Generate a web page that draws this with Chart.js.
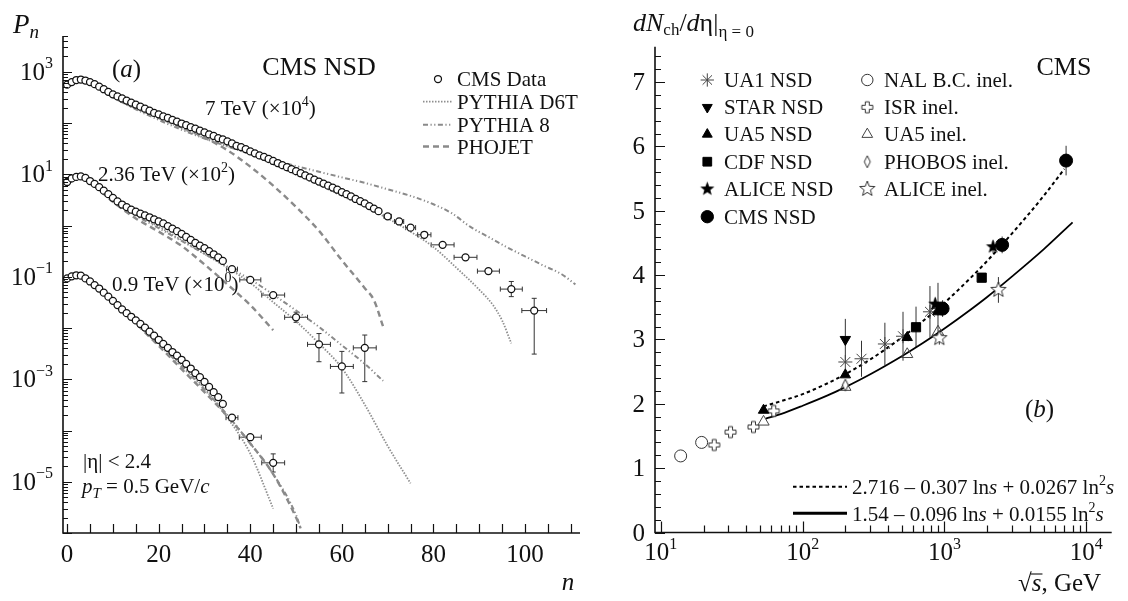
<!DOCTYPE html>
<html>
<head>
<meta charset="utf-8">
<script src="https://cdn.jsdelivr.net/npm/chart.js@4.4.1/dist/chart.umd.min.js"></script>
<style>
  body { margin: 0; background: #fff; }
  #wrapL { position: absolute; left: 0; top: 0; width: 600px; height: 601px; }
  #wrapR { position: absolute; left: 600px; top: 0; width: 528px; height: 601px; }
</style>
</head>
<body>
<div id="wrapL"><canvas id="left" width="600" height="601"></canvas></div>
<div id="wrapR"><canvas id="right" width="528" height="601"></canvas></div>
<script>
// ---------- panel (a): multiplicity distributions ----------
const n09 = [0,1,2,3,4,5,6,7,8,9,10,11,12,13,14,15,16,17,18,19,20,21,22,23,24,25,26,27,28,29,30,31,32,33,34,36,40,45];
const p09 = [0.093,0.102,0.107,0.105,0.093,0.081,0.069,0.059,0.049,0.041,
  0.034,0.028,0.023,0.0195,0.0166,0.0141,0.012,0.0102,0.0085,0.0071,
  0.0059,0.0049,0.0041,0.0034,0.0029,0.0024,0.002,0.00162,0.00132,0.0011,
  0.00089,0.00071,0.00056,0.00045,0.00033,0.000178,0.000074,0.0000234];
const e09dx = [1.3, 2.4, 2.5];
const e09lo = [null, null, 1.55e-5];
const e09hi = [null, null, 3.5e-5];

const n236 = [0,1,2,3,4,5,6,7,8,9,10,11,12,13,14,15,16,17,18,19,20,21,22,23,24,25,26,27,28,29,30,31,32,33,34,36,40,45,50,55,60,65];
const p236 = [7.08,8.3,8.9,9.1,8.5,7.4,6.5,5.6,4.8,4.1,
  3.47,2.95,2.57,2.29,2.04,1.86,1.70,1.58,1.45,1.32,
  1.20,1.10,0.977,0.87,0.776,0.69,0.60,0.525,0.457,0.407,
  0.363,0.316,0.275,0.240,0.204,0.141,0.087,0.044,0.0162,0.0048,0.00178,0.0041];
const e236dx = [1.2, 2.3, 2.5, 2.5, 2.5, 2.5, 2.5];
const e236lo = [null, null, null, 0.0129, 0.0022, 0.00054, 0.0009];
const e236hi = [null, null, null, 0.0204, 0.0078, 0.0035, 0.0073];

const n7 = [0,1,2,3,4,5,6,7,8,9,10,11,12,13,14,15,16,17,18,19,20,21,22,23,24,25,26,27,28,29,
  30,31,32,33,34,35,36,37,38,39,40,41,42,43,44,45,46,47,48,49,50,51,52,53,54,55,56,57,58,59,
  60,61,62,63,64,65,66,67,68,70,72.5,75,78,82,87,92,97,102];
const p7 = [562,631,692,708,676,631,575,513,457,407,
  363,331,302,275,251,229,209,191,174,158,
  148,135,126,115,107,98,91,83,78,71,
  66,60,56,51,48,44,40,36,34,31,
  28,25.7,23.4,21.9,20,18.2,16.6,15.1,13.8,12.6,
  11.5,10.5,9.5,8.7,7.9,7.2,6.6,6.0,5.5,5.0,
  4.5,4.1,3.7,3.3,3.0,2.7,2.4,2.14,1.91,
  1.51,1.20,0.91,0.66,0.42,0.24,0.129,0.0575,0.0219];
const e7dx = [0.8, 1.0, 1.1, 1.45, 2.5, 2.5, 2.4, 2.4, 2.7];
const e7lo = [null, null, null, null, null, null, 0.115, 0.041, 0.0031];
const e7hi = [null, null, null, null, null, null, 0.145, 0.081, 0.038];

// model curves
const d6t7n = [0,3,5,10,15,20,25,30,35,40,45,50,55,60,65,70,75,80,85,90,93,95,97];
const d6t7p = [525,661,603,316,191,126,79,51,35.5,24.5,15.5,9.8,6.2,3.8,2.34,1.38,0.76,0.38,0.15,0.056,0.028,0.014,0.005];
const py87n = [0,2,4,6,10,15,20,25,30,35,40,45,50,55,60,65,70,75,80,84,88,92,96,100,104,108,111];
const py87p = [501,631,631,525,316,186,115,74,50,35,25,19,14.5,11.2,8.7,6.8,5.1,3.8,2.6,1.74,0.95,0.60,0.38,0.25,0.166,0.112,0.071];
const pho7n = [0,3,5,10,15,20,25,30,35,40,45,50,55,60,65,67,69];
const pho7p = [501,661,589,331,200,126,83,52,29.5,14.1,6.0,2.3,0.79,0.21,0.060,0.035,0.0107];

const d6t236n = [0,3,5,10,15,20,25,30,35,40,45,50,55,60,65,70,75];
const d6t236p = [6.6,8.7,7.2,3.3,1.66,0.95,0.52,0.28,0.15,0.076,0.032,0.0135,0.005,0.00166,0.00032,0.00005,0.0000093];
const py8236n = [0,3,5,10,15,20,25,30,35,40,45,50,55,60,65,69];
const py8236p = [6.6,8.7,7.1,3.2,1.58,0.89,0.50,0.28,0.158,0.089,0.045,0.022,0.0105,0.0046,0.002,0.00093];
const pho236n = [0,3,5,10,15,20,25,30,35,40,45];
const pho236p = [6.6,8.5,6.9,2.9,1.38,0.76,0.40,0.174,0.071,0.028,0.0091];

const d6t09n = [0,3,5,10,15,20,25,30,35,40,45];
const d6t09p = [0.095,0.107,0.087,0.035,0.0132,0.005,0.0019,0.00066,0.000178,0.0000355,0.000003];
const py809n = [0,3,5,10,15,20,25,30,35,40,45,50,51];
const py809p = [0.095,0.105,0.085,0.033,0.0126,0.0048,0.00178,0.00063,0.0002,0.000056,0.0000141,0.00000224,0.00000123];
const pho09n = [0,3,5,10,15,20,25,30,35,40,45,50,51];
const pho09p = [0.095,0.107,0.085,0.033,0.0123,0.0045,0.00158,0.00056,0.00019,0.000056,0.0000141,0.000002,0.00000123];

const xTicksL = [0, 20, 40, 60, 80, 100];
const yExpL = [3, 1, -1, -3, -5];

// ---------- panel (b): dN/deta vs sqrt(s) ----------
const ua1S = [200, 260, 380, 510, 790, 900];
const ua1V = [2.65, 2.70, 2.93, 3.05, 3.43, 3.48];
const ua1E = [0, 0.28, 0.33, 0.38, 0.4, 0.4];
const starS = [200];
const starV = [3.0];
const starE = [0.32];
const ua5nS = [53, 200, 546, 900];
const ua5nV = [1.90, 2.45, 3.03, 3.43];
const cdfS = [630, 1830];
const cdfV = [3.19, 3.96];
const cdfE = [0.32, 0];
const aliceNS = [860, 2200];
const aliceNV = [3.55, 4.44];
const aliceNE = [0.1, 0.1];
const cmsS = [970, 2550, 7200];
const cmsV = [3.48, 4.47, 5.78];
const cmsE = [0.13, 0.13, 0.23];
const nalS = [13.8, 19.4];
const nalV = [1.19, 1.40];
const isrS = [23.8, 31, 45, 62.5];
const isrV = [1.36, 1.56, 1.64, 1.89];
const ua5iS = [53, 200, 546, 900];
const ua5iV = [1.72, 2.26, 2.77, 3.12];
const phobS = [200];
const phobV = [2.29];
const aliceIS = [920, 2400];
const aliceIV = [3.02, 3.77];
const aliceIE = [0.1, 0.2];

const fitNsdS = [53, 70, 100, 150, 200, 300, 500, 700, 1000, 1500, 2000, 3000, 5000, 7000];
const fitNsdV = [1.96, 2.04, 2.15, 2.32, 2.46, 2.69, 3.03, 3.28, 3.57, 3.94, 4.22, 4.65, 5.23, 5.65];
const fitInS = [55, 70, 100, 150, 200, 300, 500, 700, 1000, 1500, 2000, 3000, 5000, 8000];
const fitInV = [1.77, 1.84, 1.97, 2.13, 2.26, 2.46, 2.74, 2.94, 3.17, 3.45, 3.66, 3.98, 4.40, 4.82];

const xExpR = [1, 2, 3, 4];
const yTicksR = [0, 1, 2, 3, 4, 5, 6, 7];

// ---------- helpers ----------
const SERIF = '"Liberation Serif", "DejaVu Serif", serif';
function font(sz, it) { return (it ? 'italic ' : '') + sz + 'px ' + SERIF; }

function rich(ctx, x, y, parts, align) {
  let w = 0;
  parts.forEach(p => { ctx.font = p[1]; w += ctx.measureText(p[0]).width; });
  let cx = align === 'center' ? x - w / 2 : align === 'right' ? x - w : x;
  ctx.textAlign = 'left';
  ctx.textBaseline = 'alphabetic';
  parts.forEach(p => {
    ctx.font = p[1];
    ctx.fillText(p[0], cx, y + (p[2] || 0));
    cx += ctx.measureText(p[0]).width;
  });
  return w;
}

const pts = (xs, ys) => xs.map((v, i) => ({ x: v, y: ys[i] }));

function markerCanvas(kind, r, filled) {
  const s = Math.ceil(r * 2 + 4);
  const c = document.createElement('canvas');
  c.width = s; c.height = s;
  const g = c.getContext('2d');
  g.translate(s / 2, s / 2);
  g.beginPath();
  if (kind === 'star') {
    for (let i = 0; i < 10; i++) {
      const ang = -Math.PI / 2 + i * Math.PI / 5;
      const rr = i % 2 ? r * 0.42 : r;
      g.lineTo(rr * Math.cos(ang), rr * Math.sin(ang));
    }
  } else if (kind === 'plus') {
    const w = r * 0.36;
    g.moveTo(-w, -r); g.lineTo(w, -r); g.lineTo(w, -w); g.lineTo(r, -w); g.lineTo(r, w);
    g.lineTo(w, w); g.lineTo(w, r); g.lineTo(-w, r); g.lineTo(-w, w); g.lineTo(-r, w);
    g.lineTo(-r, -w); g.lineTo(-w, -w);
  } else if (kind === 'diamond') {
    g.moveTo(0, -r); g.lineTo(r * 0.5, 0); g.lineTo(0, r); g.lineTo(-r * 0.5, 0);
  }
  g.closePath();
  if (filled) { g.fillStyle = '#000'; g.fill(); }
  else { g.fillStyle = '#fff'; g.fill(); g.strokeStyle = '#333'; g.lineWidth = 1; g.stroke(); }
  return c;
}

function drawErrors(chart) {
  const ctx = chart.ctx, xs = chart.scales.x, ys = chart.scales.y;
  ctx.save();
  ctx.strokeStyle = '#333';
  ctx.lineWidth = 1;
  chart.data.datasets.forEach(ds => {
    const d = ds.data;
    if (ds.xerr) {
      const off = d.length - ds.xerr.length;
      ds.xerr.forEach((dx, k) => {
        const p = d[off + k];
        const py = ys.getPixelForValue(p.y);
        const x1 = xs.getPixelForValue(p.x - dx), x2 = xs.getPixelForValue(p.x + dx);
        ctx.beginPath();
        ctx.moveTo(x1, py); ctx.lineTo(x2, py);
        ctx.moveTo(x1, py - 2.5); ctx.lineTo(x1, py + 2.5);
        ctx.moveTo(x2, py - 2.5); ctx.lineTo(x2, py + 2.5);
        const lo = ds.ylo[k], hi = ds.yhi[k];
        if (lo !== null) {
          const px = xs.getPixelForValue(p.x);
          const y1 = ys.getPixelForValue(lo), y2 = ys.getPixelForValue(hi);
          ctx.moveTo(px, y1); ctx.lineTo(px, y2);
          ctx.moveTo(px - 2.5, y1); ctx.lineTo(px + 2.5, y1);
          ctx.moveTo(px - 2.5, y2); ctx.lineTo(px + 2.5, y2);
        }
        ctx.stroke();
      });
    }
    if (ds.yerr) {
      ds.yerr.forEach((e, k) => {
        if (!e) return;
        const p = d[k];
        const px = xs.getPixelForValue(p.x);
        ctx.beginPath();
        ctx.moveTo(px, ys.getPixelForValue(p.y - e));
        ctx.lineTo(px, ys.getPixelForValue(p.y + e));
        ctx.stroke();
      });
    }
  });
  ctx.restore();
}

// ---------- left chart ----------
const DOT = [1.5, 1.5], DASHDOT = [5, 2.5, 1.2, 2.5, 1.2, 2.5], DASH = [6, 4];
const GRAY_DOT = '#8e8e8e', GRAY = '#8a8a8a';

function dataSet(xs, ys, dx, lo, hi) {
  return {
    data: pts(xs, ys), showLine: false, pointStyle: 'circle', pointRadius: 3.5,
    pointBackgroundColor: '#fff', pointBorderColor: '#111', pointBorderWidth: 1.25,
    xerr: dx, ylo: lo, yhi: hi
  };
}
function modelSet(xs, ys, dash, color, width) {
  return {
    data: pts(xs, ys), showLine: true, pointRadius: 0, borderColor: color,
    borderDash: dash, borderWidth: width, cubicInterpolationMode: 'monotone', fill: false
  };
}

const leftDecor = {
  id: 'leftDecor',
  beforeDatasetsDraw(chart) { drawErrors(chart); },
  afterDraw(chart) {
    const ctx = chart.ctx, a = chart.chartArea, x = chart.scales.x, y = chart.scales.y;
    ctx.save();
    ctx.strokeStyle = '#111'; ctx.fillStyle = '#111';
    ctx.lineWidth = 1.6;
    ctx.beginPath();
    ctx.moveTo(a.left, a.top); ctx.lineTo(a.left, a.bottom); ctx.lineTo(a.right, a.bottom);
    ctx.stroke();
    ctx.lineWidth = 1.2;
    ctx.beginPath();
    for (let v = 0; v <= 110; v += 5) {
      const px = Math.round(x.getPixelForValue(v)) + 0.5;
      ctx.moveTo(px, a.bottom); ctx.lineTo(px, a.bottom - 9);
    }
    for (let e = -6; e <= 3; e++) {
      for (let m = 1; m <= 9; m++) {
        const v = m * Math.pow(10, e);
        if (v > y.max * 1.0001) break;
        const py = Math.round(y.getPixelForValue(v)) + 0.5;
        ctx.moveTo(a.left, py); ctx.lineTo(a.left + (m === 1 ? 9 : 5), py);
      }
    }
    ctx.stroke();

    // tick labels
    ctx.textAlign = 'center'; ctx.font = font(25);
    xTicksL.forEach(v => ctx.fillText(String(v), x.getPixelForValue(v), a.bottom + 29));
    yExpL.forEach(e => {
      const py = y.getPixelForValue(Math.pow(10, e));
      const sup = (e < 0 ? '\u2212' : '') + Math.abs(e);
      rich(ctx, 53, py + 8, [['10', font(25)], [sup, font(16), -11.5]], 'right');
    });

    // axis titles
    rich(ctx, 13, 33, [['P', font(27, true)], ['n', font(19, true), 5]]);
    rich(ctx, 568, 590, [['n', font(25, true)]], 'center');

    // annotations
    rich(ctx, 112, 77, [['(', font(25)], ['a', font(25, true)], [')', font(25)]]);
    rich(ctx, 319, 75, [['CMS NSD', font(26)]], 'center');
    rich(ctx, 205, 115, [['7 TeV (\u00d710', font(21)], ['4', font(14), -9], [')', font(21)]]);
    rich(ctx, 98, 181, [['2.36 TeV (\u00d710', font(21)], ['2', font(14), -9], [')', font(21)]]);
    rich(ctx, 112, 291, [['0.9 TeV (\u00d710', font(21)], ['0', font(14), -9], [')', font(21)]]);
    rich(ctx, 83, 468, [['|\u03b7| < 2.4', font(21)]]);
    rich(ctx, 82, 493, [['p', font(21, true)], ['T', font(15, true), 5], [' = 0.5 GeV/', font(21)], ['c', font(21, true)]]);

    // legend
    const lx1 = 423, lx2 = 452, tx = 457;
    ctx.lineWidth = 1.25; ctx.strokeStyle = '#111'; ctx.fillStyle = '#fff';
    ctx.beginPath(); ctx.arc(438, 79, 3.5, 0, Math.PI * 2); ctx.fill(); ctx.stroke();
    const rows = [[101.7, DOT, GRAY_DOT, 1.8], [124.7, DASHDOT, GRAY, 2.0], [146.5, DASH, GRAY, 2.4]];
    rows.forEach(r => {
      ctx.setLineDash(r[1]); ctx.strokeStyle = r[2]; ctx.lineWidth = r[3];
      ctx.beginPath(); ctx.moveTo(lx1, r[0]); ctx.lineTo(lx2, r[0]); ctx.stroke();
    });
    ctx.setLineDash([]);
    ctx.fillStyle = '#111';
    ['CMS Data', 'PYTHIA D6T', 'PYTHIA 8', 'PHOJET'].forEach((t, i) => {
      rich(ctx, tx, [79, 101.7, 124.7, 146.5][i] + 7, [[t, font(21)]]);
    });
    ctx.restore();
  }
};

new Chart(document.getElementById('left'), {
  type: 'scatter',
  data: {
    datasets: [
      dataSet(n09, p09, e09dx, e09lo, e09hi),
      dataSet(n236, p236, e236dx, e236lo, e236hi),
      dataSet(n7, p7, e7dx, e7lo, e7hi),
      modelSet(d6t09n, d6t09p, DOT, GRAY_DOT, 1.8),
      modelSet(py809n, py809p, DASHDOT, GRAY, 2.0),
      modelSet(pho09n, pho09p, DASH, GRAY, 2.4),
      modelSet(d6t236n, d6t236p, DOT, GRAY_DOT, 1.8),
      modelSet(py8236n, py8236p, DASHDOT, GRAY, 2.0),
      modelSet(pho236n, pho236p, DASH, GRAY, 2.4),
      modelSet(d6t7n, d6t7p, DOT, GRAY_DOT, 1.8),
      modelSet(py87n, py87p, DASHDOT, GRAY, 2.0),
      modelSet(pho7n, pho7p, DASH, GRAY, 2.4)
    ]
  },
  options: {
    responsive: false,
    animation: false,
    events: [],
    layout: { padding: { left: 63, right: 20, top: 36, bottom: 68 } },
    scales: {
      x: { type: 'linear', min: -0.9, max: 112, display: false },
      y: { type: 'logarithmic', min: 1e-6, max: 5000, display: false }
    },
    plugins: { legend: { display: false }, tooltip: { enabled: false } }
  },
  plugins: [leftDecor]
});

// ---------- right chart ----------
const starFilled = markerCanvas('star', 7.5, true);
const starOpen = markerCanvas('star', 8, false);
const plusOpen = markerCanvas('plus', 5.5, false);
const diamondOpen = markerCanvas('diamond', 6, false);

function markSet(label, xs, ys, style, opts, yerr) {
  return Object.assign({
    label: label, data: pts(xs, ys), showLine: false, pointStyle: style,
    pointRadius: 6, pointBackgroundColor: '#000', pointBorderColor: '#000',
    pointBorderWidth: 1, yerr: yerr
  }, opts);
}

const rightSets = [
  markSet('CMS NSD', cmsS, cmsV, 'circle', { pointRadius: 6.5 }, cmsE),
  markSet('ALICE NSD', aliceNS, aliceNV, starFilled, {}, aliceNE),
  markSet('CDF NSD', cdfS, cdfV, 'rect', { pointRadius: 6.5 }, cdfE),
  markSet('UA5 NSD', ua5nS, ua5nV, 'triangle', { pointRadius: 6 }),
  markSet('STAR NSD', starS, starV, 'triangle', { pointRadius: 6, pointRotation: 180 }, starE),
  markSet('UA1 NSD', ua1S, ua1V, 'star', { pointRadius: 7, pointBorderColor: '#444', pointBackgroundColor: 'rgba(0,0,0,0)' }, ua1E),
  markSet('ALICE inel.', aliceIS, aliceIV, starOpen, {}, aliceIE),
  markSet('PHOBOS inel.', phobS, phobV, diamondOpen, {}),
  markSet('UA5 inel.', ua5iS, ua5iV, 'triangle', { pointRadius: 6.5, pointBackgroundColor: 'rgba(255,255,255,0)', pointBorderColor: '#444' }),
  markSet('ISR inel.', isrS, isrV, plusOpen, {}),
  markSet('NAL B.C. inel.', nalS, nalV, 'circle', { pointRadius: 6, pointBackgroundColor: '#fff', pointBorderColor: '#333' }),
  { label: 'fitNSD', data: pts(fitNsdS, fitNsdV), showLine: true, pointRadius: 0, borderColor: '#000',
    borderWidth: 2, borderDash: [3.5, 3], cubicInterpolationMode: 'monotone' },
  { label: 'fitInel', data: pts(fitInS, fitInV), showLine: true, pointRadius: 0, borderColor: '#000',
    borderWidth: 1.8, cubicInterpolationMode: 'monotone' }
];

const legendCol1 = ['UA1 NSD', 'STAR NSD', 'UA5 NSD', 'CDF NSD', 'ALICE NSD', 'CMS NSD'];
const legendCol2 = ['NAL B.C. inel.', 'ISR inel.', 'UA5 inel.', 'PHOBOS inel.', 'ALICE inel.'];

const rightDecor = {
  id: 'rightDecor',
  beforeDatasetsDraw(chart) { drawErrors(chart); },
  afterDraw(chart) {
    const ctx = chart.ctx, a = chart.chartArea, x = chart.scales.x, y = chart.scales.y;
    ctx.save();
    ctx.strokeStyle = '#111'; ctx.fillStyle = '#111';
    ctx.lineWidth = 1.6;
    ctx.beginPath();
    ctx.moveTo(a.left, a.top); ctx.lineTo(a.left, a.bottom); ctx.lineTo(a.right, a.bottom);
    ctx.stroke();
    ctx.lineWidth = 1.2;
    ctx.beginPath();
    for (let k = 0; k <= 37; k++) {
      const py = Math.round(y.getPixelForValue(k / 5)) + 0.5;
      ctx.moveTo(a.left, py); ctx.lineTo(a.left + (k % 5 === 0 ? 10 : 6), py);
    }
    for (let e = 1; e <= 4; e++) {
      for (let m = 1; m <= 9; m++) {
        const v = m * Math.pow(10, e);
        if (v > x.max) break;
        const px = Math.round(x.getPixelForValue(v)) + 0.5;
        ctx.moveTo(px, a.bottom); ctx.lineTo(px, a.bottom - (m === 1 ? 11 : 7));
      }
    }
    ctx.stroke();

    yTicksR.forEach(v => rich(ctx, 45, y.getPixelForValue(v) + 8, [[String(v), font(25)]], 'right'));
    xExpR.forEach(e => {
      rich(ctx, x.getPixelForValue(Math.pow(10, e)), a.bottom + 27.5,
        [['10', font(25)], [String(e), font(16), -11.5]], 'center');
    });

    // axis titles
    rich(ctx, 33, 31, [['d', font(26, true)], ['N', font(26, true)], ['ch', font(17), 4],
      ['/', font(26)], ['d', font(26, true)], ['\u03b7', font(26)], ['|', font(26)],
      ['\u03b7 = 0', font(17), 6]]);
    const rx = 418;
    ctx.font = font(25);
    const wr = ctx.measureText('\u221a').width;
    rich(ctx, rx, 591, [['\u221a', font(25)], ['s', font(25, true)], [', GeV', font(25)]]);
    ctx.font = font(25, true);
    const ws = ctx.measureText('s').width;
    ctx.lineWidth = 1.1;
    ctx.beginPath(); ctx.moveTo(rx + wr - 1, 574); ctx.lineTo(rx + wr + ws + 1, 574); ctx.stroke();

    rich(ctx, 436.5, 75, [['CMS', font(26)]]);
    rich(ctx, 425, 417, [['(', font(25)], ['b', font(25, true)], [')', font(25)]]);

    // marker legend
    const rowsY = [80, 107.3, 134.3, 161.7, 189, 216.7];
    const h = Chart.helpers;
    function legendMark(label, cx, cy) {
      const ds = chart.data.datasets.find(d => d.label === label);
      ctx.save();
      ctx.fillStyle = ds.pointBackgroundColor;
      ctx.strokeStyle = ds.pointBorderColor;
      ctx.lineWidth = ds.pointBorderWidth;
      const r = ds.pointRadius * 0.95;
      h.drawPoint(ctx, { pointStyle: ds.pointStyle, rotation: ds.pointRotation || 0, radius: r, borderWidth: ds.pointBorderWidth }, cx, cy);
      ctx.restore();
    }
    legendCol1.forEach((t, i) => {
      legendMark(t, 107.3, rowsY[i]);
      rich(ctx, 124, rowsY[i] + 7, [[t, font(21)]]);
    });
    legendCol2.forEach((t, i) => {
      legendMark(t, 267.3, rowsY[i]);
      rich(ctx, 284, rowsY[i] + 7, [[t, font(21)]]);
    });

    // fit legend
    ctx.strokeStyle = '#000';
    ctx.lineWidth = 2; ctx.setLineDash([3.5, 3]);
    ctx.beginPath(); ctx.moveTo(193, 486.7); ctx.lineTo(247, 486.7); ctx.stroke();
    ctx.setLineDash([]); ctx.lineWidth = 3;
    ctx.beginPath(); ctx.moveTo(193, 513.3); ctx.lineTo(247, 513.3); ctx.stroke();
    ctx.fillStyle = '#111';
    rich(ctx, 252, 494, [['2.716 \u2013 0.307 ln', font(21)], ['s', font(21, true)], [' + 0.0267 ln', font(21)],
      ['2', font(14), -9], ['s', font(21, true)]]);
    rich(ctx, 252, 520.5, [['1.54 \u2013 0.096 ln', font(21)], ['s', font(21, true)], [' + 0.0155 ln', font(21)],
      ['2', font(14), -9], ['s', font(21, true)]]);
    ctx.restore();
  }
};

new Chart(document.getElementById('right'), {
  type: 'scatter',
  data: { datasets: rightSets },
  options: {
    responsive: false,
    animation: false,
    events: [],
    layout: { padding: { left: 55, right: 16.3, top: 46.7, bottom: 68.5 } },
    scales: {
      x: { type: 'logarithmic', min: 9.1, max: 15100, display: false },
      y: { type: 'linear', min: 0, max: 7.55, display: false }
    },
    plugins: { legend: { display: false }, tooltip: { enabled: false } }
  },
  plugins: [rightDecor]
});
</script>
</body>
</html>
